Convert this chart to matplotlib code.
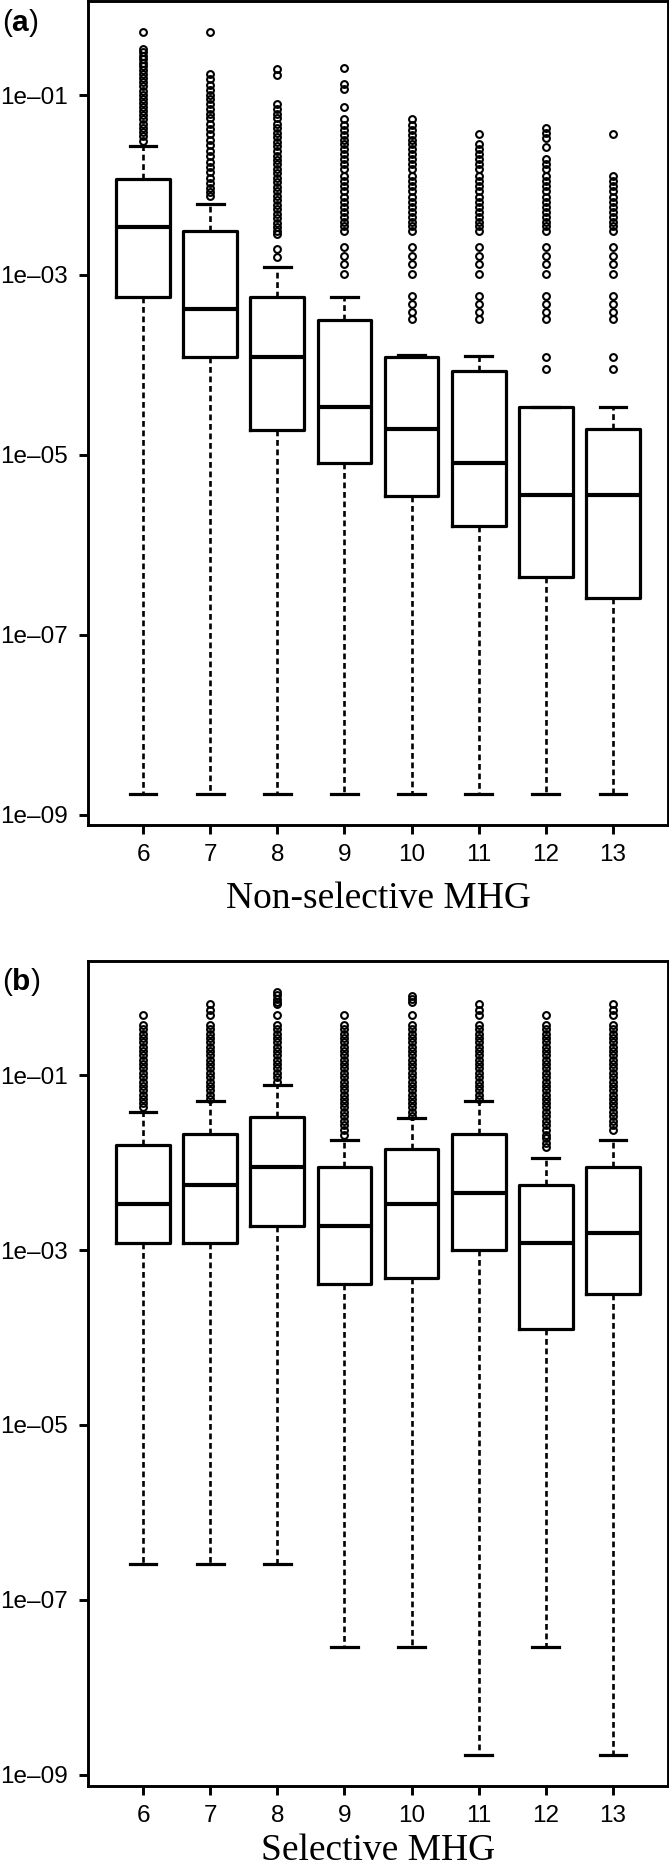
import numpy as np
import matplotlib
matplotlib.use("Agg")
import matplotlib.pyplot as plt

plt.rcParams['font.family'] = ['Liberation Sans', 'DejaVu Sans']
plt.rcParams['mathtext.fontset'] = 'custom'
plt.rcParams['mathtext.rm'] = 'Liberation Sans'
plt.rcParams['mathtext.bf'] = 'Liberation Sans:bold'

mhg = [6, 7, 8, 9, 10, 11, 12, 13]
yticks = [1e-9, 1e-7, 1e-5, 1e-3, 1e-1]
ytick_labels = ["1e\u201309", "1e\u201307", "1e\u201305", "1e\u201303", "1e\u201301"]

# ---- panel (a): non-selective MHG ----
a_whislo = [1.67e-9, 1.67e-9, 1.67e-9, 1.67e-9, 1.67e-9, 1.67e-9, 1.67e-9, 1.67e-9]
a_q1 = [5.64e-4, 1.24e-4, 1.91e-5, 8.15e-6, 3.44e-6, 1.61e-6, 4.37e-7, 2.57e-7]
a_med = [3.44e-3, 4.19e-4, 1.24e-4, 3.38e-5, 1.95e-5, 8.07e-6, 3.53e-6, 3.53e-6]
a_q3 = [1.17e-2, 3.05e-3, 5.64e-4, 3.18e-4, 1.24e-4, 8.65e-5, 3.38e-5, 1.95e-5]
a_whishi = [2.71e-2, 6.19e-3, 1.24e-3, 5.64e-4, 1.29e-4, 1.27e-4, 3.38e-5, 3.38e-5]

a_chain = [0.054, 0.047, 0.041, 0.036, 0.032, 0.0286, 0.025, 0.022, 0.0195, 0.017,
           0.015, 0.0127, 0.011, 0.0097, 0.0085, 0.0074, 0.0065, 0.0057, 0.005,
           0.0044, 0.0039, 0.0035, 0.0031]
a_grp1 = [2.03e-3, 1.64e-3, 1.32e-3, 1.03e-3]
a_grp2 = [5.89e-4, 4.76e-4, 3.84e-4, 3.24e-4]
a_fl6 = [0.51, 0.33, 0.30, 0.27, 0.25, 0.23, 0.21, 0.19, 0.17, 0.155, 0.14, 0.125,
         0.11, 0.1, 0.09, 0.082, 0.074, 0.066, 0.06, 0.054, 0.048, 0.043, 0.039,
         0.035, 0.031]
a_fl7 = [0.51, 0.171, 0.15, 0.13, 0.115, 0.1, 0.09, 0.08, 0.07, 0.062, 0.055, 0.048,
         0.042, 0.037, 0.032, 0.028, 0.024, 0.021, 0.018, 0.016, 0.014, 0.012,
         0.0105, 0.0092, 0.0083, 0.0076]
a_fl8 = [0.194, 0.168, 0.079, 0.07, 0.062, 0.055, 0.048, 0.043, 0.038, 0.034, 0.03,
         0.027, 0.024, 0.021, 0.019, 0.017, 0.015, 0.0135, 0.012, 0.0107, 0.0095,
         0.0085, 0.0076, 0.0068, 0.006, 0.0054, 0.0048, 0.0043, 0.0038, 0.0034,
         0.0031, 0.00286, 1.95e-3, 1.57e-3]
a_fl9 = [0.198, 0.132, 0.117, 0.074] + a_chain + a_grp1
a_fl10 = a_chain + a_grp1 + a_grp2
a_fl11 = [0.0374] + a_chain[5:] + a_grp1 + a_grp2
a_fl12 = [0.0436, 0.0384, 0.0338, 0.0267] + a_chain[8:] + a_grp1 + a_grp2 + [1.24e-4, 9.04e-5]
a_fl13 = [0.0369] + a_chain[11:] + a_grp1 + a_grp2 + [1.24e-4, 9.04e-5]
a_fliers = [a_fl6, a_fl7, a_fl8, a_fl9, a_fl10, a_fl11, a_fl12, a_fl13]

# ---- panel (b): selective MHG ----
b_whislo = [2.6e-7, 2.6e-7, 2.6e-7, 2.85e-8, 2.85e-8, 1.67e-9, 2.85e-8, 1.67e-9]
b_q1 = [1.21e-3, 1.21e-3, 1.91e-3, 4.06e-4, 4.75e-4, 1.0e-3, 1.24e-4, 3.14e-4]
b_med = [3.42e-3, 5.64e-3, 8.89e-3, 1.88e-3, 3.39e-3, 4.52e-3, 1.21e-3, 1.58e-3]
b_q3 = [1.58e-2, 2.15e-2, 3.34e-2, 8.89e-3, 1.44e-2, 2.15e-2, 5.64e-3, 8.89e-3]
b_whishi = [3.78e-2, 5.05e-2, 7.82e-2, 1.84e-2, 3.25e-2, 5.05e-2, 1.14e-2, 1.84e-2]

b_chain = [0.38, 0.34, 0.30, 0.27, 0.24, 0.21, 0.19, 0.17, 0.15, 0.135, 0.12, 0.107,
           0.095, 0.085, 0.076, 0.068, 0.06, 0.054, 0.048, 0.043, 0.038, 0.034,
           0.03, 0.027, 0.024, 0.021, 0.019, 0.017, 0.015]
b_fl6 = [0.494] + b_chain[:20]
b_fl7 = [0.653, 0.564, 0.494] + b_chain[:18]
b_fl8 = [0.91, 0.83, 0.75, 0.69, 0.65, 0.494] + b_chain[:14]
b_fl9 = [0.494] + b_chain[:26]
b_fl10 = [0.80, 0.75, 0.70, 0.494] + b_chain[:22]
b_fl11 = [0.653, 0.564, 0.494] + b_chain[:18]
b_fl12 = [0.494] + b_chain
b_fl13 = [0.653, 0.564, 0.494] + b_chain[:25]
b_fliers = [b_fl6, b_fl7, b_fl8, b_fl9, b_fl10, b_fl11, b_fl12, b_fl13]


def draw_panel(ax, lo, q1, med, q3, hi, fliers):
  stats = []
  for i in range(len(mhg)):
    stats.append(dict(label=str(mhg[i]), whislo=lo[i], q1=q1[i], med=med[i],
                      q3=q3[i], whishi=hi[i], fliers=fliers[i]))
  ax.bxp(stats, positions=range(1, len(mhg) + 1), widths=0.8, capwidths=0.4,
         boxprops=dict(color='black', linewidth=2.3),
         medianprops=dict(color='black', linewidth=3.0),
         whiskerprops=dict(color='black', linewidth=1.9, linestyle=(0, (2.2, 1.4))),
         capprops=dict(color='black', linewidth=2.3),
         flierprops=dict(marker='o', markerfacecolor='none', markeredgecolor='black',
                         markersize=4.9, markeredgewidth=1.5))
  ax.set_yscale('log')
  # R style 4% padding of the data range
  allv = lo + hi + [v for f in fliers for v in f]
  lmin, lmax = np.log10(min(allv)), np.log10(max(allv))
  ext = 0.04 * (lmax - lmin)
  ax.set_ylim(10 ** (lmin - ext), 10 ** (lmax + ext))
  ax.set_xlim(0.18, len(mhg) + 0.82)
  ax.yaxis.set_major_locator(matplotlib.ticker.FixedLocator(yticks))
  ax.yaxis.set_minor_locator(matplotlib.ticker.NullLocator())
  ax.set_yticklabels(ytick_labels)
  ax.tick_params(axis='both', length=6.7, width=2.1, labelsize=17.5, color='black')
  ax.tick_params(axis='y', pad=8)
  ax.tick_params(axis='x', pad=7)
  for s in ax.spines.values():
    s.set_linewidth(2.1)


fig = plt.figure(figsize=(6.69, 18.68), dpi=100)
W, H = 669.0, 1868.0
ax_a = fig.add_axes([88 / W, 1 - 825 / H, 580 / W, 824 / H])
ax_b = fig.add_axes([88 / W, 1 - 1785.7 / H, 580 / W, 824.7 / H])

draw_panel(ax_a, a_whislo, a_q1, a_med, a_q3, a_whishi, a_fliers)
draw_panel(ax_b, b_whislo, b_q1, b_med, b_q3, b_whishi, b_fliers)

xc = (88 + 668) / 2 / W
fig.text(xc, 1 - 908 / H, "Non-selective MHG", ha='center', va='baseline',
         family='Liberation Serif', fontsize=27)
fig.text(xc, 1 - 1860 / H, "Selective MHG", ha='center', va='baseline',
         family='Liberation Serif', fontsize=27)

fig.text(2 / W, 1 - 31 / H, r"($\mathbf{a}$)", ha='left', va='baseline', fontsize=21.5)
fig.text(2 / W, 1 - 990 / H, r"($\mathbf{b}$)", ha='left', va='baseline', fontsize=21.5)

fig.savefig("out.png", dpi=100)
